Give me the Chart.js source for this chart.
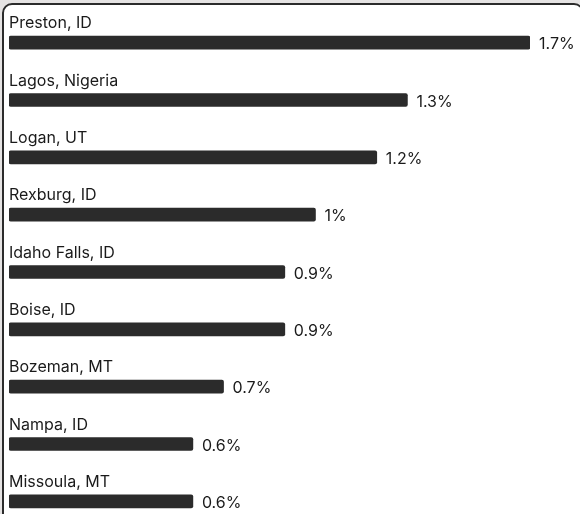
<!DOCTYPE html>
<html>
<head>
<meta charset="utf-8">
<script src="https://cdn.jsdelivr.net/npm/chart.js@4/dist/chart.umd.min.js"></script>
<style>
  html, body { margin: 0; padding: 0; width: 580px; height: 514px; overflow: hidden; background: #e5e3e3; }
  .frame { position: absolute; left: 2px; top: 3px; width: 582px; height: 560px; box-sizing: border-box;
           border: 2px solid #2b2b2b; border-radius: 10px; background: #fff; }
  .wrap { position: absolute; left: 0; top: 0; width: 580px; height: 530px; }
</style>
</head>
<body>
<div class="frame"></div>
<div class="wrap"><canvas id="canvas"></canvas></div>
<script>
let cities = ['Preston, ID', 'Lagos, Nigeria', 'Logan, UT', 'Rexburg, ID', 'Idaho Falls, ID',
              'Boise, ID', 'Bozeman, MT', 'Nampa, ID', 'Missoula, MT'];
let shares = [1.7, 1.3, 1.2, 1.0, 0.9, 0.9, 0.7, 0.6, 0.6];

let ctx = document.getElementById('canvas').getContext('2d');

// подписи: город над полосой, процент справа
let labelsPlugin = {
    id: 'barLabels',
    afterDatasetsDraw(chart) {
        let c = chart.ctx;
        let meta = chart.getDatasetMeta(0);
        c.save();
        c.font = '16px Inter, "DejaVu Sans", sans-serif';
        c.fillStyle = '#1a1a1a';
        meta.data.forEach((bar, i) => {
            c.textAlign = 'left';
            c.textBaseline = 'alphabetic';
            c.fillText(cities[i], chart.chartArea.left, bar.y - 14.5);
            c.textBaseline = 'middle';
            c.fillText(shares[i] + '%', bar.x + 9, bar.y + 2);
        });
        c.restore();
    }
};

new Chart(ctx, {
    type: 'bar',
    data: {
        labels: cities,
        datasets: [{
            data: shares,
            backgroundColor: '#2b2b2b',
            borderRadius: 2,
            borderSkipped: false,
            barThickness: 13
        }]
    },
    options: {
        indexAxis: 'y',
        responsive: true,
        maintainAspectRatio: false,
        animation: false,
        layout: { padding: { left: 9, right: 50, top: 14, bottom: 0 } },
        plugins: { legend: { display: false }, tooltip: { enabled: false } },
        scales: {
            x: { display: false, min: 0, max: 1.7 },
            y: { display: false }
        }
    },
    plugins: [labelsPlugin]
});
</script>
</body>
</html>
